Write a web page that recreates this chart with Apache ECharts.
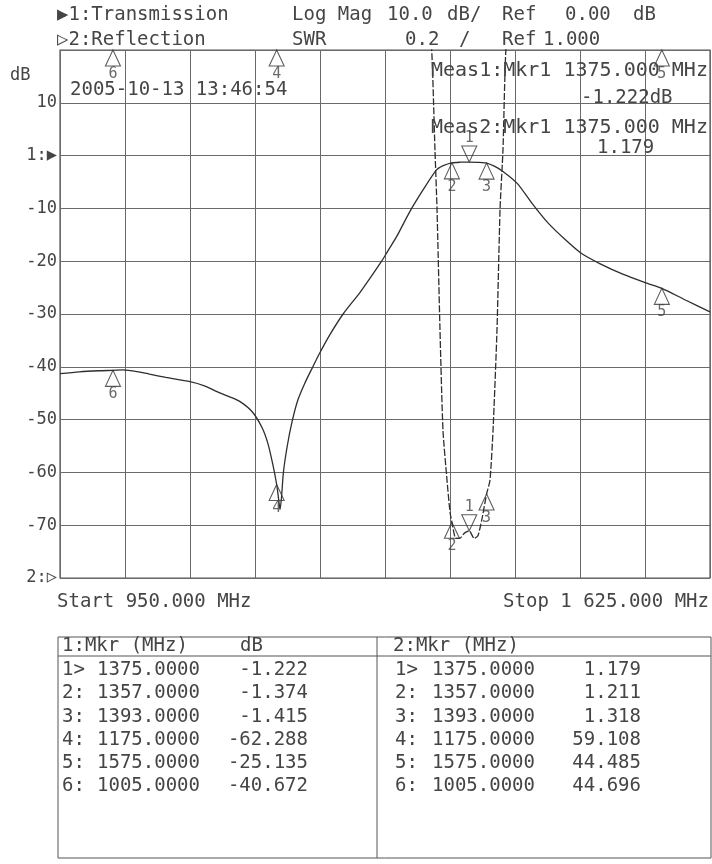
<!DOCTYPE html>
<html><head><meta charset="utf-8">
<script src="https://cdn.jsdelivr.net/npm/echarts@6/dist/echarts.min.js"></script>
<style>html,body{margin:0;padding:0;background:#fff}#c{width:712px;height:864px}</style>
</head><body><div id="c"></div>
<script>
// ---------- data ----------
const transFreq = [950,970,990,1005,1015,1030,1043,1060,1085,1100,1113,1125,1137,1150,1160,1166,1171,1175,1177,1178.5,1180,1182,1186,1191,1197,1204,1212,1220,1230,1244,1262,1284,1291,1300,1313,1327,1341,1348,1357,1366,1375,1384,1393,1401,1410,1425,1440,1456,1474,1492,1511,1535,1560,1575,1600,1625];
const transDb   = [-41.3,-40.95,-40.75,-40.67,-40.6,-40.9,-41.4,-42.0,-42.8,-43.6,-44.7,-45.6,-46.6,-48.6,-51.6,-54.6,-58.5,-62.29,-65.0,-67.0,-64.8,-60.0,-55.0,-50.4,-46.3,-43.2,-40.2,-37.3,-34.0,-30.0,-25.8,-20.0,-17.9,-15.2,-10.7,-6.5,-2.7,-1.9,-1.374,-1.25,-1.222,-1.28,-1.415,-2.0,-3.0,-5.3,-9.0,-12.6,-15.8,-18.6,-20.5,-22.5,-24.2,-25.135,-27.4,-29.6];
const reflFreq = [1325,1336,1339.4,1341.5,1344.6,1347.7,1351.9,1355,1357,1361,1365,1370,1375,1380,1384,1388,1393,1396.5,1399.7,1403.8,1407,1410,1413,1425];
const reflSwr  = [3.6,3.0,2.62,2.4,1.94,1.56,1.37,1.25,1.211,1.15,1.15,1.17,1.179,1.15,1.16,1.22,1.318,1.37,1.56,1.94,2.4,2.62,3.0,3.6];
const mkrNum = [1,2,3,4,5,6];
const mkrFreq = [1375,1357,1393,1175,1575,1005];
const mkrTransDb = [-1.222,-1.374,-1.415,-62.288,-25.135,-40.672];
const mkrSwr = [1.179,1.211,1.318,59.108,44.485,44.696];
const yTickValues = [-80,-70,-60,-50,-40,-30,-20,-10,0,10,20];
const yTickLabels = ['2:\u25B7','-70','-60','-50','-40','-30','-20','-10','1:\u25B6','10',''];
const startFreq = 950, stopFreq = 1625, xDivisions = 10;
const dbMin = -80, dbMax = 20, dbPerDiv = 10;
const swrRef = 1.0, swrPerDiv = 0.2, swrMax = 3.0;
const headerLeft = ['\u25B61:Transmission','\u25B72:Reflection'];
const timestamp = '2005-10-13 13:46:54';

// ---------- style ----------
const INK = '#454545';
const GRIDC = '#6a6a6a';
const FONT = '"DejaVu Sans Mono","Liberation Mono",monospace';

function txt(t, x, y, align, size) {
  return {type:'text', x:x, y:y, z:20, silent:true,
    style:{text:t, font:(size||19)+'px '+FONT, fill:INK, textAlign:align||'left', textVerticalAlign:'middle'}};
}

const upTri = 'triangle';
const downTri = 'path://M0,0L10,0L5,10Z';
function markerData(vals, clampMax) {
  return mkrNum.map(function(n,i){
    const down = (n===1);
    const v = (clampMax!=null) ? Math.min(vals[i], clampMax) : vals[i];
    return {name:String(n), value:[mkrFreq[i], v],
      symbol: down?downTri:upTri,
      symbolOffset: down?[0,-8]:[0,8],
      label:{position: down?'top':'bottom'}};
  });
}
const markerCommon = {
  type:'scatter', clip:false, z:5,
  symbolSize:[15,16],
  itemStyle:{color:'rgba(255,255,255,0)', borderColor:'#333', borderWidth:1.1},
  label:{show:true, formatter:'{b}', color:INK, fontSize:15, fontFamily:FONT, distance:0},
  emphasis:{disabled:true}
};

// ---------- graphic (texts, table) ----------
const g = [];
g.push(txt(headerLeft[0], 57, 15));
g.push(txt(headerLeft[1], 57, 40));
g.push(txt('Log Mag', 292, 15));
g.push(txt(dbPerDiv.toFixed(1), 387, 15));
g.push(txt('dB/', 447, 15));
g.push(txt('Ref', 502, 15));
g.push(txt((0).toFixed(2), 565, 15));
g.push(txt('dB', 633, 15));
g.push(txt('SWR', 292, 40));
g.push(txt(swrPerDiv.toFixed(1), 405, 40));
g.push(txt('/', 459, 40));
g.push(txt('Ref', 502, 40));
g.push(txt(swrRef.toFixed(3), 543, 40));
g.push(txt('dB', 10, 76, 'left', 17));
g.push(txt(timestamp, 70, 90));
g.push(txt('Meas1:Mkr1 ' + mkrFreq[0].toFixed(3) + ' MHz', 431, 71, 'left', 20));
g.push(txt(mkrTransDb[0].toFixed(3) + 'dB', 581, 98));
g.push(txt('Meas2:Mkr1 ' + mkrFreq[0].toFixed(3) + ' MHz', 431, 128, 'left', 20));
g.push(txt(mkrSwr[0].toFixed(3), 597, 148));
g.push(txt('Start ' + startFreq.toFixed(3) + ' MHz', 57, 602));
g.push(txt('Stop ' + Math.floor(stopFreq/1000) + ' ' + (stopFreq%1000).toFixed(3) + ' MHz', 709, 602, 'right'));

// table
g.push({type:'rect', z:15, silent:true, shape:{x:58, y:637, width:653, height:221}, style:{fill:'none', stroke:'#555', lineWidth:1}});
g.push({type:'line', z:15, silent:true, shape:{x1:377, y1:637, x2:377, y2:858}, style:{stroke:'#555', lineWidth:1}});
g.push({type:'line', z:15, silent:true, shape:{x1:58, y1:656, x2:711, y2:656}, style:{stroke:'#555', lineWidth:1}});
g.push(txt('1:Mkr (MHz)', 62, 646));
g.push(txt('dB', 240, 646));
g.push(txt('2:Mkr (MHz)', 393, 646));
mkrNum.forEach(function(n,i){
  const y = 670 + i*23.3;
  const pre = n===1 ? n+'>' : n+':';
  g.push(txt(pre, 62, y));
  g.push(txt(mkrFreq[i].toFixed(4), 97, y));
  g.push(txt(mkrTransDb[i].toFixed(3), 308, y, 'right'));
  g.push(txt(pre, 395, y));
  g.push(txt(mkrFreq[i].toFixed(4), 432, y));
  g.push(txt(mkrSwr[i].toFixed(3), 641, y, 'right'));
});

const option = {
  animation:false,
  backgroundColor:'#ffffff',
  grid:{left:60, top:50, width:650, height:528, show:true, borderColor:'#555', borderWidth:1.2, backgroundColor:'rgba(0,0,0,0)'},
  xAxis:[
    {type:'value', min:startFreq, max:stopFreq, show:false},
    {type:'value', min:0, max:xDivisions, interval:1, axisLine:{show:false}, axisTick:{show:false}, axisLabel:{show:false},
     splitLine:{show:true, lineStyle:{color:GRIDC, width:1}}}
  ],
  yAxis:[
    {type:'value', min:dbMin, max:dbMax, interval:dbPerDiv, axisLine:{show:false}, axisTick:{show:false},
     splitLine:{show:true, lineStyle:{color:GRIDC, width:1}},
     axisLabel:{margin:3, color:INK, fontSize:17, fontFamily:FONT,
       formatter:function(v){ const k = yTickValues.indexOf(Math.round(v)); return k>=0 ? yTickLabels[k] : ''; }}},
    {type:'value', min:swrRef, max:swrMax, show:false, splitLine:{show:false}}
  ],
  series:[
    {type:'line', name:'Transmission', xAxisIndex:0, yAxisIndex:0, showSymbol:false, smooth:0.25,
     data: transFreq.map(function(f,i){return [f, transDb[i]];}),
     lineStyle:{color:'#2e2e2e', width:1.3}, z:3},
    {type:'line', name:'Reflection', xAxisIndex:0, yAxisIndex:1, showSymbol:false, smooth:0.2,
     data: reflFreq.map(function(f,i){return [f, reflSwr[i]];}),
     lineStyle:{color:'#2e2e2e', width:1.3, type:[7,2]}, z:3},
    Object.assign({}, markerCommon, {name:'TransMkr', xAxisIndex:0, yAxisIndex:0, data:markerData(mkrTransDb)}),
    Object.assign({}, markerCommon, {name:'ReflMkr', xAxisIndex:0, yAxisIndex:1, data:markerData(mkrSwr, swrMax)})
  ],
  graphic:{elements:g}
};
const chart = echarts.init(document.getElementById('c'), null, {renderer:'canvas'});
chart.setOption(option);
</script>
</body></html>
